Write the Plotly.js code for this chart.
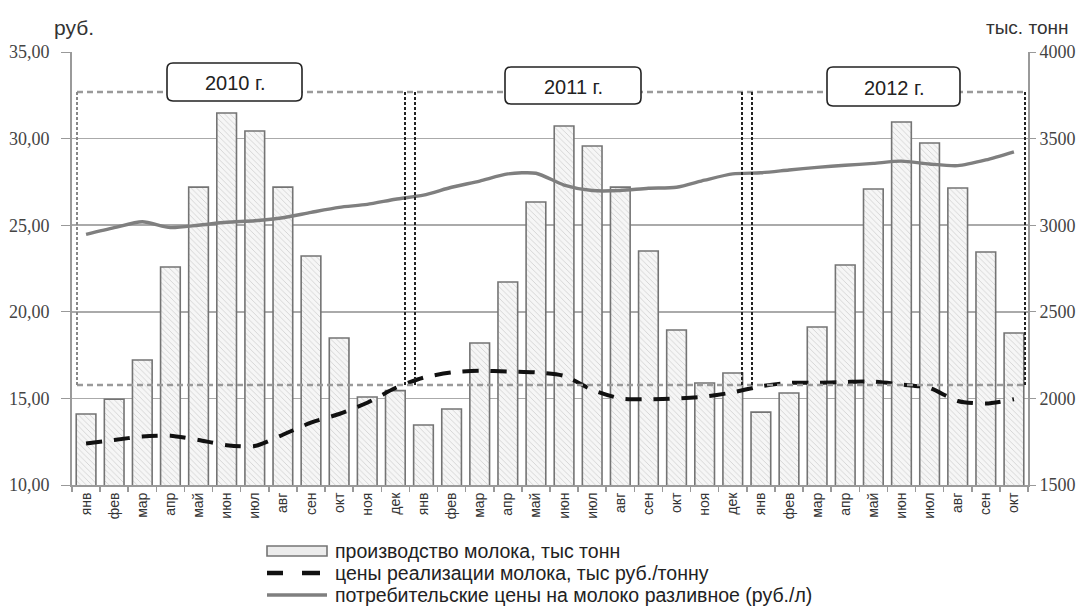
<!DOCTYPE html>
<html><head><meta charset="utf-8">
<script src="https://cdn.plot.ly/plotly-3.0.1.min.js"></script>
<style>body{margin:0;background:#fff}#chart{width:1085px;height:606px}</style>
</head><body><div id="chart"></div>
<script>
// ---- data ----
const months = ['янв','фев','мар','апр','май','июн','июл','авг','сен','окт','ноя','дек',
                'янв','фев','мар','апр','май','июн','июл','авг','сен','окт','ноя','дек',
                'янв','фев','мар','апр','май','июн','июл','авг','сен','окт'];
const production = [1910, 1995, 2222, 2759, 3220, 3648, 3544, 3220, 2822, 2349, 2008, 2045,
                    1846, 1939, 2320, 2672, 3134, 3573, 3457, 3220, 2851, 2395, 2089, 2147,
                    1921, 2031, 2412, 2770, 3209, 3596, 3475, 3215, 2845, 2378];
const salePrice = [12.4, 12.6, 12.8, 12.85, 12.6, 12.3, 12.25, 12.9, 13.6, 14.1, 14.75, 15.6,
                   16.2, 16.5, 16.6, 16.55, 16.5, 16.3, 15.5, 15.0, 14.95, 15.0, 15.1, 15.35,
                   15.7, 15.9, 15.9, 15.95, 15.97, 15.8, 15.6, 14.85, 14.7, 14.95];
const consumerPrice = [24.47, 24.86, 25.2, 24.86, 25.0, 25.17, 25.26, 25.43, 25.74, 26.03, 26.2, 26.5,
                       26.74, 27.19, 27.55, 27.96, 28.0, 27.32, 27.0, 27.0, 27.13, 27.19, 27.6, 27.96,
                       28.03, 28.19, 28.34, 28.46, 28.57, 28.7, 28.53, 28.44, 28.77, 29.24];
const seriesNames = ['производство молока, тыс тонн',
                     'цены реализации молока, тыс руб./тонну',
                     'потребительские цены на молоко разливное (руб./л)'];
const yearLabels = ['2010 г.', '2011 г.', '2012 г.'];
const leftTicks = [10, 15, 20, 25, 30, 35];
const rightTicks = [1500, 2000, 2500, 3000, 3500, 4000];

// ---- layout helpers (pixel -> paper) ----
const W = 1085, H = 606, L = 72, R = 57, T = 52, B = 121;
const PW = W - L - R, PH = H - T - B;
const px = x => (x - L) / PW;
const py = y => (H - B - y) / PH;

const xs = months.map((_, i) => i);

const barColor = '#f6f6f6', barLine = '#747474';
const dashColor = '#111', solidColor = '#7f7f7f';

const traces = [
  {
    type: 'bar', x: xs, y: production, name: seriesNames[0], yaxis: 'y',
    width: 0.7,
    marker: {
      color: barColor,
      line: {color: barLine, width: 1.6},
      pattern: {shape: '\\', fgcolor: '#cdcdcd', bgcolor: barColor, size: 4, solidity: 0.2}
    }
  },
  {
    type: 'scatter', mode: 'lines', x: xs, y: salePrice, name: seriesNames[1], yaxis: 'y2',
    line: {color: dashColor, width: 4, dash: '16px,12px', shape: 'spline', smoothing: 0.7}
  },
  {
    type: 'scatter', mode: 'lines', x: xs, y: consumerPrice, name: seriesNames[2], yaxis: 'y2',
    line: {color: solidColor, width: 3.4, shape: 'spline', smoothing: 0.7}
  }
];

// frames around years
const shapes = [];
const dashGray = {color: '#9a9a9a', width: 2.5, dash: '6px,4px'};
shapes.push({type: 'line', xref: 'paper', yref: 'paper', x0: px(77), x1: px(1025), y0: py(92), y1: py(92), line: dashGray});
shapes.push({type: 'line', xref: 'paper', yref: 'paper', x0: px(77), x1: px(1025), y0: py(385), y1: py(385), line: dashGray});
[77, 405, 415, 742, 752, 1025].forEach((xp, k) => {
  shapes.push({type: 'line', xref: 'paper', yref: 'paper', x0: px(xp), x1: px(xp), y0: py(92), y1: py(385),
               line: {color: k === 0 ? '#888' : '#222', width: 2, dash: '3px,2px'}});
});
// rounded label boxes
function roundRect(x0, y0, x1, y1, r) {
  const P = (x, y) => px(x) + ',' + py(y);
  return 'M' + P(x0 + r, y0) + ' L' + P(x1 - r, y0) + ' Q' + P(x1, y0) + ' ' + P(x1, y0 + r) +
         ' L' + P(x1, y1 - r) + ' Q' + P(x1, y1) + ' ' + P(x1 - r, y1) +
         ' L' + P(x0 + r, y1) + ' Q' + P(x0, y1) + ' ' + P(x0, y1 - r) +
         ' L' + P(x0, y0 + r) + ' Q' + P(x0, y0) + ' ' + P(x0 + r, y0) + ' Z';
}
const boxes = [[167, 63, 302, 101], [505, 67, 641, 104], [827, 67, 960, 106]];
const annotations = [];
const sans = 'Liberation Sans, Arial, sans-serif';
boxes.forEach((b, i) => {
  shapes.push({type: 'path', xref: 'paper', yref: 'paper', path: roundRect(b[0], b[1], b[2], b[3], 6),
               fillcolor: '#fff', line: {color: '#222', width: 1.6}});
  annotations.push({xref: 'paper', yref: 'paper', x: px((b[0] + b[2]) / 2), y: py((b[1] + b[3]) / 2 + 1),
                    text: yearLabels[i], showarrow: false, xanchor: 'center', yanchor: 'middle',
                    font: {family: sans, size: 20, color: '#222'}});
});
annotations.push({xref: 'paper', yref: 'paper', x: px(52), y: py(27), text: 'руб.', showarrow: false,
                  xanchor: 'left', yanchor: 'middle', font: {family: sans, size: 21, color: '#333'}});
annotations.push({xref: 'paper', yref: 'paper', x: px(1070), y: py(28), text: 'тыс. тонн', showarrow: false,
                  xanchor: 'right', yanchor: 'middle', font: {family: sans, size: 19, color: '#333'}});

// legend (drawn below the plot, one row per series)
const legendRows = [551, 573, 595];
const legX0 = 267, legX1 = 327, legText = 333;
shapes.push({type: 'rect', xref: 'paper', yref: 'paper', x0: px(legX0), x1: px(legX1),
             y0: py(legendRows[0] - 5), y1: py(legendRows[0] + 5),
             fillcolor: '#ececec', line: {color: barLine, width: 1.6}});
shapes.push({type: 'line', xref: 'paper', yref: 'paper', x0: px(legX0), x1: px(legX0 + 16),
             y0: py(legendRows[1]), y1: py(legendRows[1]), line: {color: dashColor, width: 4.5}});
shapes.push({type: 'line', xref: 'paper', yref: 'paper', x0: px(legX0 + 35), x1: px(legX0 + 53),
             y0: py(legendRows[1]), y1: py(legendRows[1]), line: {color: dashColor, width: 4.5}});
shapes.push({type: 'line', xref: 'paper', yref: 'paper', x0: px(legX0), x1: px(legX1),
             y0: py(legendRows[2]), y1: py(legendRows[2]), line: {color: solidColor, width: 3.4}});
seriesNames.forEach((n, i) => {
  annotations.push({xref: 'paper', yref: 'paper', x: px(legText), y: py(legendRows[i]), text: n,
                    showarrow: false, xanchor: 'left', yanchor: 'middle',
                    font: {family: sans, size: 19.5, color: '#222'}});
});

const layout = {
  width: W, height: H,
  margin: {l: L, r: R, t: T, b: B, autoexpand: false},
  paper_bgcolor: '#fff', plot_bgcolor: '#fff',
  separators: ', ',
  showlegend: false,
  xaxis: {
    range: [-0.5, months.length - 0.5],
    tickmode: 'array', tickvals: xs, ticktext: months, tickangle: -90,
    ticks: '', showgrid: false, zeroline: false,
    showline: true, linecolor: '#9a9a9a', linewidth: 2,
    tickfont: {family: sans, size: 14, color: '#333'},
    minor: {tick0: -0.5, dtick: 1, ticks: 'outside', ticklen: 5, tickcolor: '#999', tickwidth: 1.5, showgrid: false}
  },
  yaxis: {
    side: 'right', range: [1500, 4000], tickmode: 'array', tickvals: rightTicks,
    showgrid: true, gridcolor: '#aaaaaa', gridwidth: 1.5, zeroline: false,
    showline: true, linecolor: '#9a9a9a', linewidth: 2,
    ticks: 'outside', ticklen: 6, tickcolor: '#999',
    tickfont: {family: 'Liberation Serif, Times New Roman, serif', size: 18, color: '#444'}
  },
  yaxis2: {
    overlaying: 'y', side: 'left', range: [10, 35], tickmode: 'array', tickvals: leftTicks, tickformat: '.2f',
    showgrid: false, zeroline: false,
    showline: true, linecolor: '#9a9a9a', linewidth: 2,
    ticks: 'outside', ticklen: 9, tickcolor: '#999', ticklabelstandoff: 8,
    tickfont: {family: 'Liberation Serif, Times New Roman, serif', size: 18, color: '#444'}
  },
  shapes: shapes,
  annotations: annotations
};

Plotly.newPlot('chart', traces, layout, {displayModeBar: false, staticPlot: true});
</script>
</body></html>
